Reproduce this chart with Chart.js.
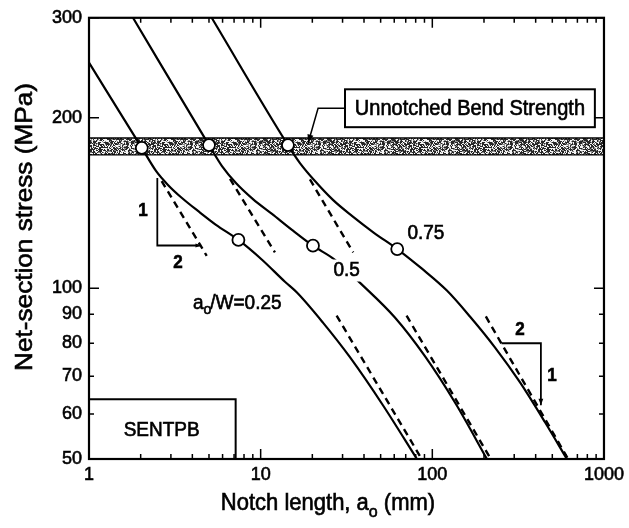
<!DOCTYPE html>
<html>
<head>
<meta charset="utf-8">
<script src="https://cdn.jsdelivr.net/npm/chart.js@4.4.1/dist/chart.umd.min.js"></script>
<style>
  html, body { margin: 0; padding: 0; background: #fff; }
  #wrap { width: 629px; height: 528px; }
</style>
</head>
<body>
<div id="wrap"><canvas id="chart" width="629" height="528"></canvas></div>
<script>
// Net-section stress vs notch length, SENTPB specimens, three a0/W ratios
const curve025 = [[1,250],[2.03,176.9],[2.456,161.1],[2.884,152.2],[3.48,144.3],[4.313,136.9],[5.492,129.4],[7.42,121.7],
                  [10.18,112.3],[13.85,102.7],[16.27,98.3],[23.06,87.0],[33.12,75.6],[51.56,62.2],[81.35,50]];
const curve050 = [[1.804,300],[5.0,178.9],[5.952,164.3],[7.178,153.4],[9.02,143.7],[11.64,135.3],[15.22,126.8],[20.17,118.9],
                  [27.08,112.3],[38.9,101.5],[60.55,88.8],[90.54,75.9],[137.2,62.5],[208,50]];
const curve075 = [[5.184,300],[14.42,178.9],[16.94,166.3],[20.72,154.6],[26.37,143.2],[34.02,134.2],[45.7,125.3],[62.45,117.3],
                  [87.0,108.3],[121.6,99.1],[165.6,89.2],[231.5,78.7],[323.7,68.3],[452.7,58.1],[608,50]];

// slope -1/2 asymptotes (short notch and long notch)
const dashUpper025 = [[2.65,154.6],[4.85,114.1]];
const dashUpper050 = [[6.63,155.9],[12.11,115.7]];
const dashUpper075 = [[19.37,155.6],[34.6,115.7]];
const dashLower025 = [[27.7,89.5],[86.7,50]];
const dashLower050 = [[70.8,89.5],[219,50]];
const dashLower075 = [[205,89.2],[618,50]];

// transition points on each curve
const openPoints = [[2.03,176.9],[5.0,178.9],[14.42,178.9],[7.42,121.7],[20.17,118.9],[62.45,117.3]];

// unnotched bend strength scatter band (MPa)
const bendStrengthBand = [172.3, 184.2];

// slope triangles (1:2)
const slopeTriangleA = [[2.5,156.5],[2.5,119],[4.5,119]];
const slopeTriangleB = [[253,80],[429,80],[429,62.2]];

const xLabelTicks = [1, 10, 100, 1000];
const yLabelTicks = [50, 60, 70, 80, 90, 100, 200, 300];
const yLongTicks = [100, 200, 300];

const toXY = arr => arr.map(p => ({ x: p[0], y: p[1] }));
const FONT = "'Liberation Sans', Arial, Helvetica, sans-serif";
const STRETCH = 1.08;   // letters are drawn slightly tall
const INK = 0.6;        // extra stroke so text reads heavy

// gray stipple used for the strength band
function stipplePattern() {
  const c = document.createElement('canvas');
  c.width = 64; c.height = 24;
  const g = c.getContext('2d');
  const img = g.createImageData(64, 24);
  for (let yy = 0; yy < 24; yy++) {
    for (let xx = 0; xx < 64; xx++) {
      const cx = xx >> 1, cy = yy >> 1;
      let h = Math.imul(cx + 17, 374761393) ^ Math.imul(cy + 31, 668265263) ^ Math.imul(xx * 7 + yy, 2246822519);
      h = Math.imul(h ^ (h >>> 13), 1274126177);
      h = (h ^ (h >>> 16)) >>> 0;
      const v = h & 255;
      const shade = v < 125 ? 40 : (v < 170 ? 140 : 245);
      const i = (yy * 64 + xx) * 4;
      img.data[i] = img.data[i + 1] = img.data[i + 2] = shade;
      img.data[i + 3] = 255;
    }
  }
  g.putImageData(img, 0, 0);
  return g.createPattern(c, 'repeat');
}

const solid = data => ({
  data: toXY(data), borderColor: '#000', borderWidth: 2.2, pointRadius: 0,
  cubicInterpolationMode: 'monotone', fill: false, order: 4
});
const dashed = data => ({
  data: toXY(data), borderColor: '#000', borderWidth: 2.4, borderDash: [7, 5],
  pointRadius: 0, tension: 0, fill: false, order: 5
});
const straight = data => ({
  data: toXY(data), borderColor: '#000', borderWidth: 1.8, pointRadius: 0,
  tension: 0, fill: false, order: 3
});

const datasets = [
  { data: toXY(openPoints), showLine: false, pointRadius: 6, pointHoverRadius: 6,
    pointBackgroundColor: '#fff', pointBorderColor: '#000', pointBorderWidth: 1.8, order: 0 },
  solid(curve025), solid(curve050), solid(curve075),
  dashed(dashUpper025), dashed(dashUpper050), dashed(dashUpper075),
  dashed(dashLower025), dashed(dashLower050), dashed(dashLower075),
  straight(slopeTriangleA), straight(slopeTriangleB),
  { data: [{ x: 1, y: bendStrengthBand[1] }, { x: 1000, y: bendStrengthBand[1] }],
    borderColor: '#000', borderWidth: 1.5, pointRadius: 0, tension: 0,
    fill: '+1', backgroundColor: stipplePattern(), order: 10 },
  { data: [{ x: 1, y: bendStrengthBand[0] }, { x: 1000, y: bendStrengthBand[0] }],
    borderColor: '#000', borderWidth: 2.5, pointRadius: 0, tension: 0, fill: false, order: 11 }
];

// inward ticks on all four sides plus the frame
const frameTicks = {
  id: 'frameTicks',
  afterDraw(chart) {
    const { ctx, chartArea: a, scales: { x, y } } = chart;
    ctx.save();
    ctx.strokeStyle = '#000';
    ctx.lineWidth = 2.2;
    ctx.strokeRect(a.left, a.top, a.right - a.left, a.bottom - a.top);
    ctx.lineWidth = 1.5;
    ctx.beginPath();
    for (let d = 1; d <= 100; d *= 10) {
      for (let m = 1; m <= 10; m++) {
        const v = d * m;
        if (v > 1000) continue;
        const p = x.getPixelForValue(v);
        const len = (m === 1 || m === 10) ? 10 : 5;
        ctx.moveTo(p, a.bottom); ctx.lineTo(p, a.bottom - len);
        ctx.moveTo(p, a.top); ctx.lineTo(p, a.top + len);
      }
    }
    yLabelTicks.forEach(v => {
      const p = y.getPixelForValue(v);
      const len = yLongTicks.includes(v) ? 10 : 5;
      ctx.moveTo(a.left, p); ctx.lineTo(a.left + len, p);
      ctx.moveTo(a.right, p); ctx.lineTo(a.right - len, p);
    });
    ctx.stroke();
    ctx.restore();
  }
};

// draws text heavier and slightly taller
function inkText(ctx, str, x, y, font, sx = 1, sy = STRETCH) {
  ctx.save();
  ctx.font = font;
  ctx.translate(x, y);
  ctx.scale(sx, sy);
  ctx.lineWidth = INK;
  ctx.fillText(str, 0, 0);
  ctx.strokeText(str, 0, 0);
  ctx.restore();
}

// boxes, labels, leader arrows and axis titles
const annotate = {
  id: 'annotate',
  afterDatasetsDraw(chart) {
    const { ctx, scales: { x, y }, chartArea: a } = chart;
    const px = v => x.getPixelForValue(v);
    const py = v => y.getPixelForValue(v);
    ctx.save();
    ctx.fillStyle = '#000';
    ctx.strokeStyle = '#000';

    const arrowHead = (x0, y0, x1, y1, size) => {
      const ang = Math.atan2(y1 - y0, x1 - x0);
      ctx.beginPath();
      ctx.moveTo(x1, y1);
      ctx.lineTo(x1 - size * Math.cos(ang - 0.35), y1 - size * Math.sin(ang - 0.35));
      ctx.lineTo(x1 - size * Math.cos(ang + 0.35), y1 - size * Math.sin(ang + 0.35));
      ctx.closePath();
      ctx.fill();
    };

    // Unnotched Bend Strength callout
    const bx0 = px(31), bx1 = px(885), by0 = py(224.4), by1 = py(192.4);
    ctx.fillStyle = '#fff';
    ctx.fillRect(bx0, by0, bx1 - bx0, by1 - by0);
    ctx.fillStyle = '#000';
    ctx.lineWidth = 2;
    ctx.strokeRect(bx0, by0, bx1 - bx0, by1 - by0);
    ctx.textAlign = 'center';
    ctx.textBaseline = 'middle';
    inkText(ctx, 'Unnotched Bend Strength', (bx0 + bx1) / 2, (by0 + by1) / 2 + 1, `20px ${FONT}`);

    ctx.lineWidth = 1.5;
    const lx = px(21.6), ly = py(207.8), tx = px(18.9), ty = py(180.4);
    ctx.beginPath();
    ctx.moveTo(bx0, ly); ctx.lineTo(lx, ly); ctx.lineTo(tx, ty);
    ctx.stroke();
    arrowHead(lx, ly, tx, ty, 9);

    // SENTPB label box at lower left
    const sx1 = px(7.15), sy0 = py(63.7);
    ctx.lineWidth = 2;
    ctx.beginPath();
    ctx.moveTo(a.left, sy0); ctx.lineTo(sx1, sy0); ctx.lineTo(sx1, a.bottom);
    ctx.stroke();
    inkText(ctx, 'SENTPB', px(2.65), py(56.2), `19px ${FONT}`);

    // ratio labels
    inkText(ctx, '0.75', px(91.8), py(124.8), `19px ${FONT}`);
    const hx = px(31.7), hy = py(107.5);
    ctx.fillStyle = '#fff';
    ctx.fillRect(hx - 16, hy - 11, 32, 22);
    ctx.fillStyle = '#000';
    inkText(ctx, '0.5', hx, hy, `19px ${FONT}`);

    ctx.textAlign = 'left';
    let ax = px(4.03);
    const ay = py(93.9);
    ctx.font = `19px ${FONT}`;
    inkText(ctx, 'a', ax, ay, `19px ${FONT}`);
    ax += ctx.measureText('a').width;
    inkText(ctx, 'o', ax, ay + 6, `14px ${FONT}`);
    ctx.font = `14px ${FONT}`;
    ax += ctx.measureText('o').width;
    inkText(ctx, '/W=0.25', ax - 1, ay, `19px ${FONT}`);

    // slope triangle numbers and arrow tips
    ctx.textAlign = 'center';
    inkText(ctx, '1', px(2.06), py(137), `bold 17px ${FONT}`);
    inkText(ctx, '2', px(3.30), py(111), `bold 17px ${FONT}`);
    inkText(ctx, '2', px(323.6), py(84.6), `bold 17px ${FONT}`);
    inkText(ctx, '1', px(497), py(70.0), `bold 17px ${FONT}`);
    arrowHead(px(4.0), py(119), px(4.5), py(119), 6);
    arrowHead(px(429), py(66), px(429), py(62.2), 7);

    // axis titles
    ctx.textAlign = 'left';
    ctx.textBaseline = 'alphabetic';
    const t1 = 'Notch length, a', t2 = 'o', t3 = ' (mm)';
    ctx.font = `22px ${FONT}`;
    const w1 = ctx.measureText(t1).width, w3 = ctx.measureText(t3).width;
    ctx.font = `16px ${FONT}`;
    const w2 = ctx.measureText(t2).width;
    const tx0 = 328 - (w1 + w2 + w3) / 2;
    const base = 510;
    inkText(ctx, t1, tx0, base, `22px ${FONT}`);
    inkText(ctx, t2, tx0 + w1, base + 7, `16px ${FONT}`);
    inkText(ctx, t3, tx0 + w1 + w2, base, `22px ${FONT}`);

    ctx.translate(25, 227);
    ctx.rotate(-Math.PI / 2);
    ctx.textAlign = 'center';
    ctx.textBaseline = 'middle';
    inkText(ctx, 'Net-section stress (MPa)', 0, 0, `24px ${FONT}`, 1.09, 1);
    ctx.restore();
  }
};

new Chart(document.getElementById('chart'), {
  type: 'line',
  data: { datasets },
  options: {
    responsive: false,
    devicePixelRatio: 1,
    animation: false,
    events: [],
    layout: { padding: { top: 16, right: 25, left: 0, bottom: 0 } },
    plugins: { legend: { display: false }, tooltip: { enabled: false } },
    scales: {
      x: {
        type: 'logarithmic', min: 1, max: 1000,
        grid: { display: false, drawTicks: false, tickLength: 0 }, border: { display: false },
        afterBuildTicks: s => { s.ticks = xLabelTicks.map(v => ({ value: v })); },
        afterFit: s => { s.height = 69; },
        ticks: { padding: 5, color: '#000', maxRotation: 0, autoSkip: false,
                 textStrokeColor: '#000', textStrokeWidth: INK,
                 font: { family: FONT, size: 18 }, callback: v => String(v) }
      },
      y: {
        type: 'logarithmic', min: 50, max: 300,
        grid: { display: false, drawTicks: false, tickLength: 0 }, border: { display: false },
        afterBuildTicks: s => { s.ticks = yLabelTicks.map(v => ({ value: v })); },
        afterFit: s => { s.width = 89; },
        ticks: { padding: 7, color: '#000', autoSkip: false,
                 textStrokeColor: '#000', textStrokeWidth: INK,
                 font: { family: FONT, size: 18 }, callback: v => String(v) }
      }
    }
  },
  plugins: [frameTicks, annotate]
});
</script>
</body>
</html>
